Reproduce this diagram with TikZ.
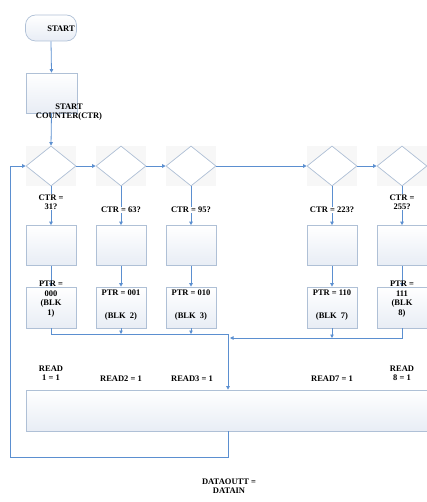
\documentclass[tikz,border=0pt]{standalone}
\usepackage{fontspec}
\setmainfont{Liberation Serif}
\usetikzlibrary{shapes.geometric,arrows.meta}
\definecolor{lnc}{HTML}{5B8FD0}
\definecolor{bxc}{HTML}{AFC0D6}
\definecolor{bxf}{HTML}{E8EDF5}
\tikzset{
  x=1pt,y=-1pt,
  conn/.style={draw=lnc,line width=0.8pt,-{Triangle[length=3.5pt,width=3.5pt]}},
  plain/.style={draw=lnc,line width=0.8pt},
  procbox/.style={draw=bxc,line width=0.7pt,top color=white,bottom color=bxf,minimum width=50pt,minimum height=40pt,inner sep=0pt},
  dec/.style={draw=bxc,line width=0.7pt,fill=white,diamond,minimum width=50pt,minimum height=40pt,inner sep=0pt,aspect=1.25},
  lbl/.style={font=\fontsize{8.5}{9.5}\selectfont\bfseries,align=center,inner sep=0.5pt,fill=white},
  lblt/.style={font=\fontsize{8.5}{9.5}\selectfont\bfseries,align=center,inner sep=0.5pt},
}
\begin{document}
\begin{tikzpicture}
\useasboundingbox (0,0) rectangle (427,502);
% start terminal
\node[draw=bxc,line width=0.7pt,top color=white,bottom color=bxf,rounded corners=10pt,minimum width=51pt,minimum height=26pt] (start) at (51,28) {};
\node[lblt] (starttxt) at (61,29) {START};
% counter box
\node[procbox,minimum width=51pt] (cnt) at (51.5,93) {};
\node[lblt] (cnttxt) at (69,112) {START\\COUNTER(CTR)};
\draw[conn] (start.south) -- (cnt.north);
% diamonds with faint squares
\foreach \n/\x in {1/51,2/121,3/191,4/332,5/402}{
  \fill[black!3] (\x-25,146) rectangle (\x+25,186);
  \node[dec] (d\n) at (\x,166) {};
  \node[procbox] (p\n) at (\x,245.5) {};
  \node[procbox,minimum height=41pt] (q\n) at (\x,307.5) {};
}
\draw[conn] (cnt.south) -- (d1.north);
\draw[conn] (d1.east) -- (d2.west);
\draw[conn] (d2.east) -- (d3.west);
\draw[conn] (d3.east) -- (d4.west);
\draw[conn] (d4.east) -- (d5.west);
\foreach \n in {1,...,5}{
  \draw[conn] (d\n.south) -- (p\n.north);
  \draw[conn] (p\n.south) -- (q\n.north);
}
% CTR labels
\node[lbl] (c1) at (51,202) {CTR =\\31?};
\node[lbl] (c2) at (121,210) {CTR = 63?};
\node[lbl] (c3) at (191,210) {CTR = 95?};
\node[lbl] (c4) at (332,210) {CTR = 223?};
\node[lbl] (c5) at (402,202) {CTR =\\255?};
% PTR labels
\node[lbl,fill=none] (r1) at (51,299) {PTR =\\000\\(BLK\\1)};
\node[lblt] (r2) at (121,293) {PTR = 001};
\node[lblt] (b2) at (121,316) {(BLK\ \ 2)};
\node[lblt] (r3) at (191,293) {PTR = 010};
\node[lblt] (b3) at (191,316) {(BLK\ \ 3)};
\node[lblt] (r4) at (332,293) {PTR = 110};
\node[lblt] (b4) at (332,316) {(BLK\ \ 7)};
\node[lbl,fill=none] (r5) at (402,299) {PTR =\\111\\(BLK\\8)};
% merge lines
\coordinate (ml) at (51,334);
\coordinate (m2) at (121,334);
\coordinate (m3) at (191,334);
\coordinate (mj) at (228,334);
\coordinate (mr) at (402,338);
\coordinate (m4) at (332,338);
\coordinate (mk) at (230,338);
\draw[plain] (q1.south) -- (ml) -- (mj);
\draw[conn] (q2.south) -- (m2);
\draw[conn] (q3.south) -- (m3);
\draw[conn] (q5.south) -- (mr) -- (mk);
\draw[conn] (q4.south) -- (m4);
% big box
\node[draw=bxc,line width=0.7pt,top color=white,bottom color=bxf,minimum width=402pt,minimum height=41pt,inner sep=0pt] (big) at (227,410.5) {};
\draw[conn] (mj) -- (big.north -| mj);
% READ labels
\node[lblt] (w1) at (51,373) {READ\\1 = 1};
\node[lblt] (w2) at (121,379) {READ2 = 1};
\node[lblt] (w3) at (192,379) {READ3 = 1};
\node[lblt] (w4) at (332,379) {READ7 = 1};
\node[lblt] (w5) at (402,373) {READ\\8 = 1};
% loop back
\coordinate (lb) at (228,457);
\coordinate (ll) at (10,457);
\coordinate (lt) at (10,166);
\draw[conn] (big.south -| lb) -- (lb) -- (ll) -- (lt) -- (d1.west);
% output
\node[lblt] (out) at (229,486) {DATAOUTT =\\DATAIN};
\end{tikzpicture}
\end{document}
